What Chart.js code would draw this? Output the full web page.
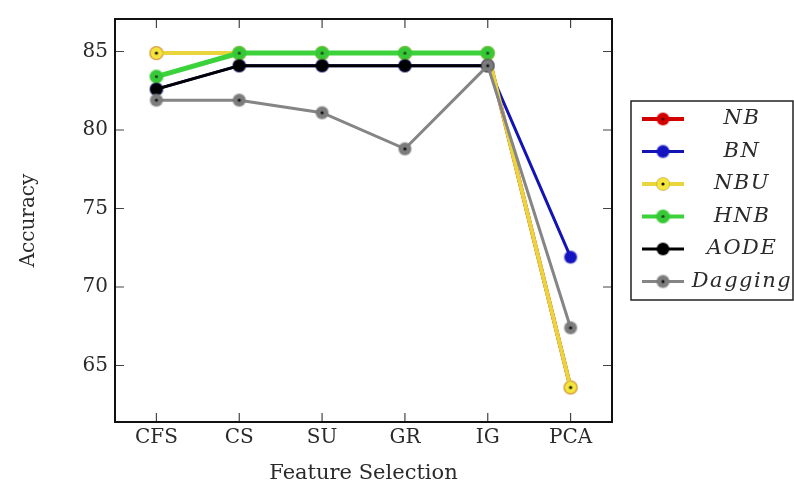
<!DOCTYPE html>
<html>
<head>
<meta charset="utf-8">
<script src="https://cdn.jsdelivr.net/npm/chart.js@4.4.0/dist/chart.umd.min.js"></script>
<style>
  html, body { margin: 0; padding: 0; background: #fff; }
</style>
</head>
<body>
<canvas id="chart" width="794" height="488"></canvas>
<script>
// Data
const methods = ["CFS", "CS", "SU", "GR", "IG", "PCA"];
const yTicks = [65, 70, 75, 80, 85];
const nb = [84.9, 84.9, 84.9, 84.9, 84.9, 63.6];
const bn = [82.6, 84.1, 84.1, 84.1, 84.1, 71.9];
const nbu = [84.9, 84.9, 84.9, 84.9, 84.9, 63.6];
const hnb = [83.4, 84.9, 84.9, 84.9, 84.9, null];
const aode = [82.6, 84.1, 84.1, 84.1, 84.1, null];
const dagging = [81.9, 81.9, 81.1, 78.8, 84.1, 67.4];
const seriesNames = ["NB", "BN", "NBU", "HNB", "AODE", "Dagging"];

const serif = "'DejaVu Serif', 'Liberation Serif', serif";
const textColor = "#2a2a2a";

// Round marker with a soft ring and an optional centre dot
function marker(fill, ring, dot, r) {
  const c = document.createElement("canvas");
  const s = Math.ceil(r * 2 + 4);
  c.width = c.height = s;
  const g = c.getContext("2d");
  g.beginPath();
  g.arc(s / 2, s / 2, r + 1, 0, Math.PI * 2);
  g.fillStyle = ring;
  g.fill();
  g.beginPath();
  g.arc(s / 2, s / 2, r, 0, Math.PI * 2);
  g.fillStyle = fill;
  g.fill();
  if (dot) {
    g.beginPath();
    g.arc(s / 2, s / 2, 1.6, 0, Math.PI * 2);
    g.fillStyle = dot;
    g.fill();
  }
  return c;
}

const styles = [
  { color: "#d40000", width: 4, point: marker("#d40000", "rgba(212,0,0,0.4)", "#600000", 6) },
  { color: "#1414b4", width: 3, point: marker("#1414c0", "rgba(20,20,190,0.4)", null, 6) },
  { color: "#ead63c", width: 4, point: marker("#f3e53c", "rgba(200,170,40,0.7)", "#111", 6) },
  { color: "#3cd23c", width: 5, point: marker("#36c836", "rgba(60,210,60,0.45)", "#1c4a1c", 6.5) },
  { color: "#000000", width: 3, point: marker("#000", "rgba(0,0,0,0.35)", null, 6) },
  { color: "#858585", width: 3, point: marker("#7c7c7c", "rgba(120,120,120,0.45)", "#111", 6) }
];
const values = [nb, bn, nbu, hnb, aode, dagging];

const datasets = seriesNames.map((name, i) => ({
  label: name,
  data: values[i],
  borderColor: styles[i].color,
  backgroundColor: styles[i].color,
  borderWidth: styles[i].width,
  pointStyle: styles[i].point,
  pointRadius: 5,
  tension: 0,
  order: seriesNames.length - i
}));

// Box around the plot with inward ticks on every side
const frame = {
  id: "frame",
  afterDatasetsDraw(chart) {
    const { ctx, chartArea: a, scales: { x, y } } = chart;
    ctx.save();
    ctx.strokeStyle = "#444";
    ctx.lineWidth = 1.2;
    ctx.beginPath();
    methods.forEach((m, i) => {
      const px = x.getPixelForValue(i);
      ctx.moveTo(px, a.bottom); ctx.lineTo(px, a.bottom - 9);
      ctx.moveTo(px, a.top); ctx.lineTo(px, a.top + 9);
    });
    yTicks.forEach(v => {
      const py = y.getPixelForValue(v);
      ctx.moveTo(a.left, py); ctx.lineTo(a.left + 9, py);
      ctx.moveTo(a.right, py); ctx.lineTo(a.right - 9, py);
    });
    ctx.stroke();
    ctx.lineWidth = 2;
    ctx.strokeStyle = "#111";
    ctx.strokeRect(a.left, a.top, a.width, a.height);
    ctx.restore();
  }
};

// Boxed legend to the right of the plot
const boxLegend = {
  id: "boxLegend",
  afterDraw(chart) {
    const ctx = chart.ctx;
    const left = 631, top = 101, w = 162, h = 199, row = 32.5;
    ctx.save();
    ctx.fillStyle = "#fff";
    ctx.fillRect(left, top, w, h);
    ctx.strokeStyle = "#222";
    ctx.lineWidth = 1.5;
    ctx.strokeRect(left, top, w, h);
    chart.data.datasets.forEach((ds, i) => {
      const cy = top + 18 + i * row;
      ctx.strokeStyle = ds.borderColor;
      ctx.lineWidth = Math.min(ds.borderWidth, 4);
      ctx.beginPath();
      ctx.moveTo(left + 11, cy);
      ctx.lineTo(left + 53, cy);
      ctx.stroke();
      const p = ds.pointStyle;
      ctx.drawImage(p, left + 32 - p.width / 2, cy - p.height / 2);
      ctx.fillStyle = textColor;
      ctx.font = "italic 21px " + serif;
      ctx.letterSpacing = "1.5px";
      ctx.textAlign = "center";
      ctx.textBaseline = "middle";
      ctx.fillText(ds.label, left + 111, cy);
    });
    ctx.restore();
  }
};

new Chart(document.getElementById("chart"), {
  type: "line",
  data: { labels: methods, datasets },
  options: {
    responsive: false,
    animation: false,
    devicePixelRatio: 1,
    layout: { padding: { top: 6, right: 182, left: 0, bottom: 0 } },
    plugins: { legend: { display: false }, tooltip: { enabled: false } },
    scales: {
      x: {
        type: "category",
        offset: true,
        grid: { display: false, drawTicks: false },
        border: { display: false },
        ticks: { color: textColor, font: { family: serif, size: 20 }, padding: 4 },
        title: {
          display: true,
          text: "Feature Selection",
          color: textColor,
          font: { family: serif, size: 21 },
          padding: { top: 0, bottom: 2 }
        },
        afterFit(s) { s.height = 66; }
      },
      y: {
        min: 61.4,
        max: 87.07,
        afterBuildTicks(s) { s.ticks = yTicks.map(v => ({ value: v })); },
        grid: { display: false, drawTicks: false },
        border: { display: false },
        ticks: { color: textColor, font: { family: serif, size: 20 }, padding: 7 },
        title: {
          display: true,
          text: "Accuracy",
          color: textColor,
          font: { family: serif, size: 20 },
          padding: { top: 17, bottom: 0 }
        },
        afterFit(s) { s.width = 115; }
      }
    }
  },
  plugins: [frame, boxLegend]
});
</script>
</body>
</html>
